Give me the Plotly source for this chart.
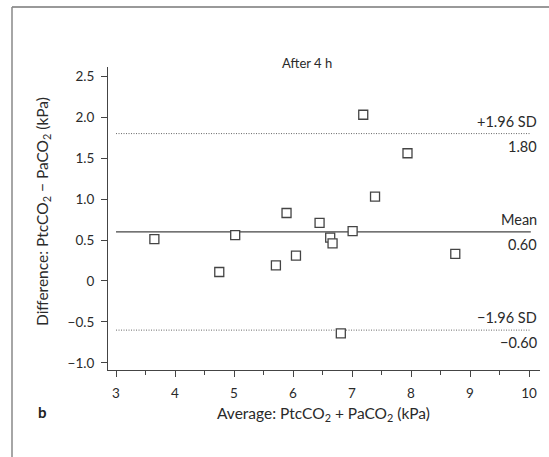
import plotly.graph_objects as go

W, H = 549, 457

avg_x = [3.65, 4.75, 5.02, 5.71, 5.89, 6.05, 6.45, 6.63, 6.67, 6.81, 7.01, 7.19, 7.39, 7.94, 8.75]
diff_y = [0.51, 0.11, 0.56, 0.19, 0.83, 0.31, 0.71, 0.53, 0.46, -0.64, 0.61, 2.03, 1.03, 1.56, 0.33]

mean_val = 0.60
upper_sd = 1.80
lower_sd = -0.60
line_x = [3, 10.03]

x_ticks = [3, 4, 5, 6, 7, 8, 9, 10]
y_ticks = [-1.0, -0.5, 0, 0.5, 1.0, 1.5, 2.0, 2.5]
y_ticklabels = ["\u22121.0", "\u22120.5", "0", "0.5", "1.0", "1.5", "2.0", "2.5"]

FONT = "Lato"
TXT = "#2a2a2a"
AX = "#444444"

fig = go.Figure()

# reference lines
fig.add_trace(go.Scatter(x=line_x, y=[upper_sd, upper_sd], mode="lines",
                         line=dict(color="#666666", width=1, dash="1px,1.5px"), hoverinfo="skip"))
fig.add_trace(go.Scatter(x=line_x, y=[lower_sd, lower_sd], mode="lines",
                         line=dict(color="#666666", width=1, dash="1px,1.5px"), hoverinfo="skip"))
fig.add_trace(go.Scatter(x=line_x, y=[mean_val, mean_val], mode="lines",
                         line=dict(color=AX, width=1.2), hoverinfo="skip"))

fig.add_trace(go.Scatter(x=avg_x, y=diff_y, mode="markers",
                         marker=dict(symbol="square", size=9, color="white",
                                     line=dict(color=AX, width=1.3))))

x0, x1 = 108 / W, 540 / W
y0, y1 = 1 - 370 / H, 1 - 67 / H

fig.update_layout(
    width=W, height=H,
    margin=dict(l=0, r=0, t=0, b=0),
    paper_bgcolor="white", plot_bgcolor="white",
    showlegend=False,
    font=dict(family=FONT, size=13, color=TXT),
    xaxis=dict(domain=[x0, x1], range=[2.864, 10.186], tickvals=x_ticks,
               showline=True, linecolor=AX, linewidth=1, ticks="outside",
               ticklen=6, tickcolor=AX, showgrid=False, zeroline=False,
               ticklabelstandoff=5,
               minor=dict(dtick=0.5, tick0=3, ticks="outside", ticklen=4, tickcolor=AX),
               tickfont=dict(family=FONT, size=13.5, color=TXT)),
    yaxis=dict(domain=[y0, y1], range=[-1.087, 2.613], tickvals=y_ticks,
               ticktext=y_ticklabels,
               showline=True, linecolor=AX, linewidth=1, ticks="outside",
               ticklen=6, tickcolor=AX, showgrid=False, zeroline=False,
               ticklabelstandoff=4,
               tickfont=dict(family=FONT, size=13.5, color=TXT)),
)

ann = []
def label(text, yv, above):
    ann.append(dict(x=10.17, y=yv, xref="x", yref="y", text=text, showarrow=False,
                    xanchor="right", yanchor="bottom" if above else "top",
                    yshift=2 if above else -2,
                    font=dict(family=FONT, size=14.5, color=TXT)))

label("+1.96 SD", upper_sd, True)
label("1.80", upper_sd, False)
label("Mean", mean_val, True)
label("0.60", mean_val, False)
label("\u22121.96 SD", lower_sd, True)
label("\u22120.60", lower_sd, False)

ann.append(dict(x=307 / W, y=1 - 63 / H, xref="paper", yref="paper", text="After 4 h",
                showarrow=False, xanchor="center", yanchor="middle",
                font=dict(family=FONT, size=13, color=TXT)))
ann.append(dict(x=323 / W, y=1 - 414 / H, xref="paper", yref="paper",
                text="Average: PtcCO<sub>2</sub> + PaCO<sub>2</sub> (kPa)",
                showarrow=False, xanchor="center", yanchor="middle",
                font=dict(family=FONT, size=15.5, color=TXT)))
ann.append(dict(x=43 / W, y=1 - 212 / H, xref="paper", yref="paper",
                text="Difference: PtcCO<sub>2</sub> \u2212 PaCO<sub>2</sub> (kPa)",
                showarrow=False, xanchor="center", yanchor="middle", textangle=-90,
                font=dict(family=FONT, size=15.5, color=TXT)))
ann.append(dict(x=42 / W, y=1 - 412 / H, xref="paper", yref="paper", text="<b>b</b>",
                showarrow=False, xanchor="center", yanchor="middle",
                font=dict(family=FONT, size=15, color="#222222")))
fig.update_layout(annotations=ann)

# outer frame (top and left edges)
fig.add_shape(type="line", xref="paper", yref="paper", x0=12 / W, x1=1, y0=1 - 7 / H, y1=1 - 7 / H,
              line=dict(color="#999999", width=2))
fig.add_shape(type="line", xref="paper", yref="paper", x0=12 / W, x1=12 / W, y0=0, y1=1 - 7 / H,
              line=dict(color="#888888", width=1.5))

fig.write_html("out.html")
